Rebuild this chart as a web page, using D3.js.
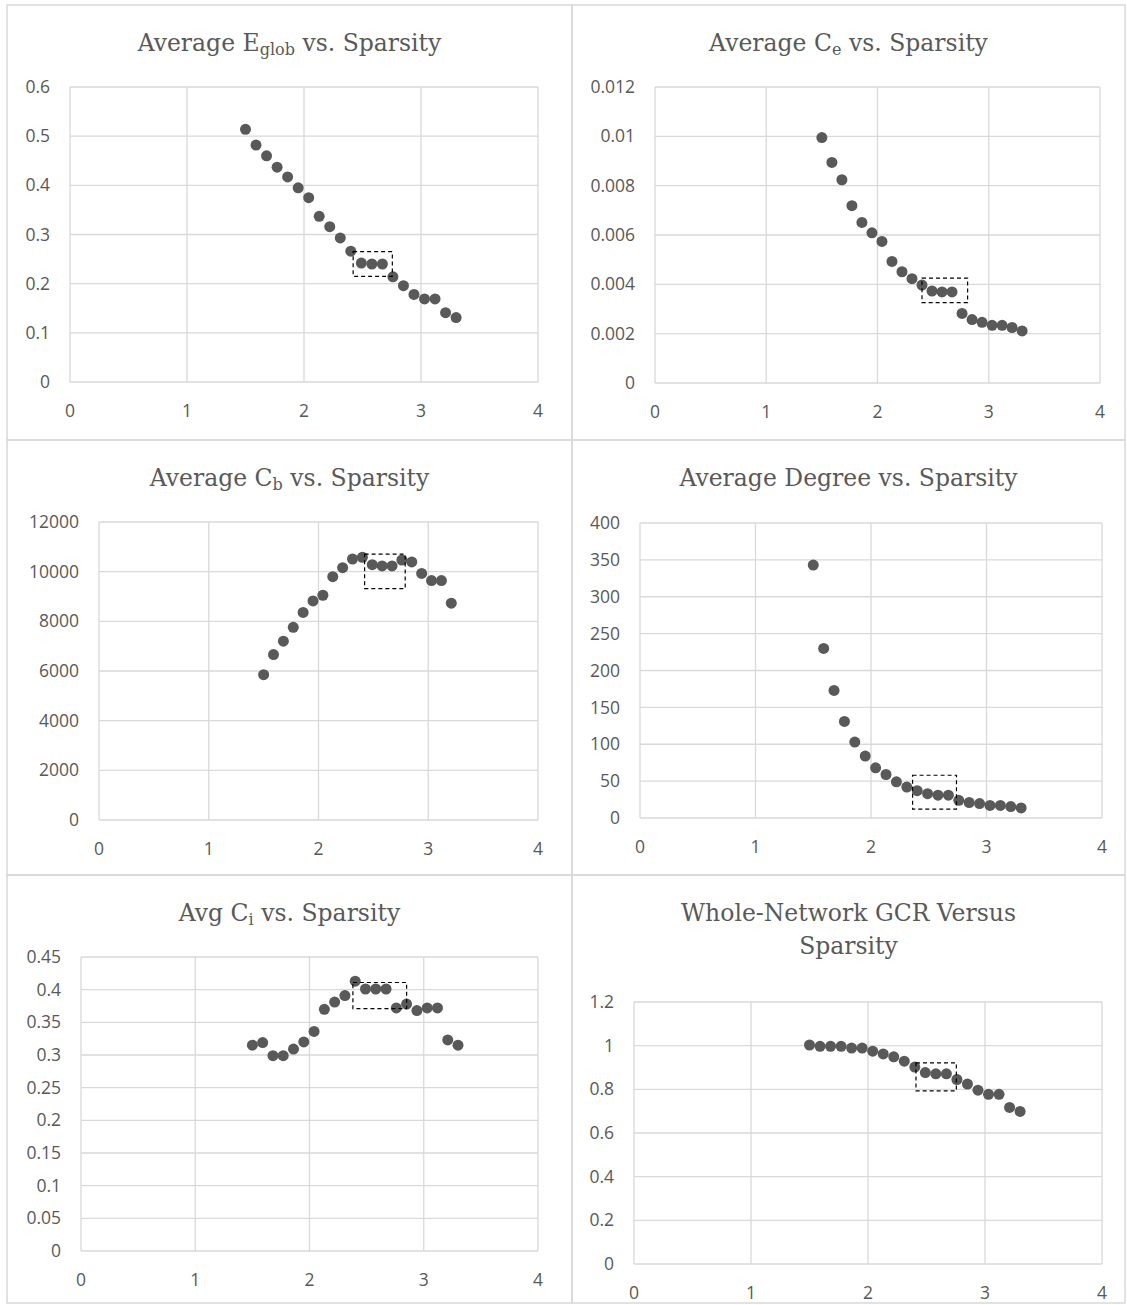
<!DOCTYPE html>
<html>
<head>
<meta charset="utf-8">
<script src="https://cdn.jsdelivr.net/npm/d3@7"></script>
<style>
  body { margin: 0; background: #fff; }
  .tick-label { font-family: "Open Sans", sans-serif; font-size: 17.5px; fill: #595959; }
  .title { font-family: "DejaVu Serif", serif; font-size: 23.5px; fill: #595959; }
</style>
</head>
<body>
<svg id="chart" width="1127" height="1305"></svg>
<script>
// sparsity values shared by all panels
var sparsity = [1.50, 1.59, 1.68, 1.77, 1.86, 1.95, 2.04, 2.13, 2.22, 2.31, 2.40,
                2.49, 2.58, 2.67, 2.76, 2.85, 2.94, 3.03, 3.12, 3.21, 3.30];

var eglob = [0.514, 0.482, 0.460, 0.437, 0.417, 0.395, 0.375, 0.337, 0.316, 0.293, 0.266,
             0.242, 0.240, 0.240, 0.214, 0.196, 0.178, 0.169, 0.169, 0.141, 0.131];
var ce = [0.00995, 0.00894, 0.00824, 0.00719, 0.00651, 0.00609, 0.00574, 0.00493, 0.00451, 0.00423, 0.00397,
          0.00373, 0.00369, 0.00369, 0.00282, 0.00257, 0.00246, 0.00234, 0.00234, 0.00225, 0.00211];
var cb = [5850, 6660, 7200, 7760, 8360, 8820, 9050, 9800, 10160, 10510, 10580,
          10280, 10230, 10230, 10470, 10390, 9930, 9640, 9640, 8730];
var degree = [343, 230, 173, 131, 103, 84, 68, 59, 49, 42, 37,
              33, 31, 31, 24, 21, 19.5, 17, 17, 15.5, 13.6];
var ci = [0.315, 0.319, 0.299, 0.299, 0.309, 0.320, 0.336, 0.370, 0.381, 0.391, 0.413,
          0.401, 0.401, 0.401, 0.372, 0.378, 0.368, 0.372, 0.372, 0.323, 0.315];
var gcr = [1.003, 0.997, 0.997, 0.997, 0.989, 0.989, 0.975, 0.962, 0.949, 0.929, 0.902,
           0.877, 0.871, 0.871, 0.845, 0.824, 0.796, 0.777, 0.777, 0.717, 0.699];

// axis ticks
var xTicks = [0, 1, 2, 3, 4];
var eglobTicks = [0, 0.1, 0.2, 0.3, 0.4, 0.5, 0.6];
var ceTicks = [0, 0.002, 0.004, 0.006, 0.008, 0.01, 0.012];
var cbTicks = [0, 2000, 4000, 6000, 8000, 10000, 12000];
var degreeTicks = [0, 50, 100, 150, 200, 250, 300, 350, 400];
var ciTicks = [0, 0.05, 0.1, 0.15, 0.2, 0.25, 0.3, 0.35, 0.4, 0.45];
var gcrTicks = [0, 0.2, 0.4, 0.6, 0.8, 1, 1.2];

// dashed highlight boxes [x0, x1, yTop, yBottom]
var eglobBox = [2.42, 2.755, 0.265, 0.215];
var ceBox = [2.40, 2.81, 0.00425, 0.00326];
var cbBox = [2.42, 2.79, 10710, 9320];
var degreeBox = [2.36, 2.74, 58, 12];
var ciBox = [2.38, 2.85, 0.411, 0.371];
var gcrBox = [2.41, 2.755, 0.921, 0.793];

var svg = d3.select("#chart");
svg.append("rect").attr("width", 1127).attr("height", 1305).attr("fill", "#fff");

var panels = [
  {title: [["Average E", ""], ["glob", "sub"], [" vs. Sparsity", ""]], values: eglob, ticks: eglobTicks, box: eglobBox,
   cell: [7, 5, 572, 440], plot: [70, 87, 538, 382]},
  {title: [["Average C", ""], ["e", "sub"], [" vs. Sparsity", ""]], values: ce, ticks: ceTicks, box: ceBox,
   cell: [572, 5, 1125, 440], plot: [655, 87, 1100, 383]},
  {title: [["Average C", ""], ["b", "sub"], [" vs. Sparsity", ""]], values: cb, ticks: cbTicks, box: cbBox,
   cell: [7, 440, 572, 875], plot: [99, 522, 538, 820]},
  {title: [["Average Degree vs. Sparsity", ""]], values: degree, ticks: degreeTicks, box: degreeBox,
   cell: [572, 440, 1125, 875], plot: [640, 523, 1102, 818]},
  {title: [["Avg C", ""], ["i", "sub"], [" vs. Sparsity", ""]], values: ci, ticks: ciTicks, box: ciBox,
   cell: [7, 875, 572, 1303], plot: [81, 957, 538, 1251]},
  {title: [["Whole-Network GCR Versus", ""]], title2: "Sparsity", values: gcr, ticks: gcrTicks, box: gcrBox,
   cell: [572, 875, 1125, 1303], plot: [634, 1002, 1102, 1264]}
];

panels.forEach(function(p) {
  var cell = p.cell, plot = p.plot;
  var g = svg.append("g");

  // chart border
  g.append("rect")
    .attr("x", cell[0]).attr("y", cell[1])
    .attr("width", cell[2] - cell[0]).attr("height", cell[3] - cell[1])
    .attr("fill", "none").attr("stroke", "#d9d9d9").attr("stroke-width", 1.5);

  var x = d3.scaleLinear().domain([0, 4]).range([plot[0], plot[2]]);
  var yMax = p.ticks[p.ticks.length - 1];
  var y = d3.scaleLinear().domain([0, yMax]).range([plot[3], plot[1]]);
  var fmt = d3.format("~g");

  // grid lines
  g.selectAll(".hgrid").data(p.ticks).enter().append("line")
    .attr("x1", plot[0]).attr("x2", plot[2])
    .attr("y1", function(d) { return y(d); }).attr("y2", function(d) { return y(d); })
    .attr("stroke", "#d9d9d9").attr("stroke-width", 1.3);
  g.selectAll(".vgrid").data(xTicks).enter().append("line")
    .attr("y1", plot[1]).attr("y2", plot[3])
    .attr("x1", function(d) { return x(d); }).attr("x2", function(d) { return x(d); })
    .attr("stroke", "#d9d9d9").attr("stroke-width", 1.3);

  // tick labels
  g.selectAll(".ylab").data(p.ticks).enter().append("text")
    .attr("class", "tick-label")
    .attr("x", plot[0] - 20)
    .attr("y", function(d) { return y(d); })
    .attr("dy", "0.35em")
    .attr("text-anchor", "end")
    .text(function(d) { return fmt(d); });
  g.selectAll(".xlab").data(xTicks).enter().append("text")
    .attr("class", "tick-label")
    .attr("x", function(d) { return x(d); })
    .attr("y", plot[3] + 29)
    .attr("dy", "0.35em")
    .attr("text-anchor", "middle")
    .text(function(d) { return d; });

  // title
  var cx = (cell[0] + cell[2]) / 2;
  var t = g.append("text").attr("class", "title")
    .attr("x", cx).attr("y", cell[1] + 46)
    .attr("text-anchor", "middle");
  p.title.forEach(function(part) {
    var ts = t.append("tspan").text(part[0]);
    if (part[1] === "sub") ts.attr("font-size", "16px").attr("baseline-shift", "-25%");
  });
  if (p.title2) {
    g.append("text").attr("class", "title")
      .attr("x", cx).attr("y", cell[1] + 79)
      .attr("text-anchor", "middle").text(p.title2);
  }

  // points
  g.selectAll(".pt").data(p.values).enter().append("circle")
    .attr("cx", function(d, i) { return x(sparsity[i]); })
    .attr("cy", function(d) { return y(d); })
    .attr("r", 5.5)
    .attr("fill", "#595959");

  // dashed box
  var b = p.box;
  g.append("rect")
    .attr("x", x(b[0])).attr("y", y(b[2]))
    .attr("width", x(b[1]) - x(b[0])).attr("height", y(b[3]) - y(b[2]))
    .attr("fill", "none").attr("stroke", "#000").attr("stroke-width", 1.2)
    .attr("stroke-dasharray", "4,3");
});
</script>
</body>
</html>
